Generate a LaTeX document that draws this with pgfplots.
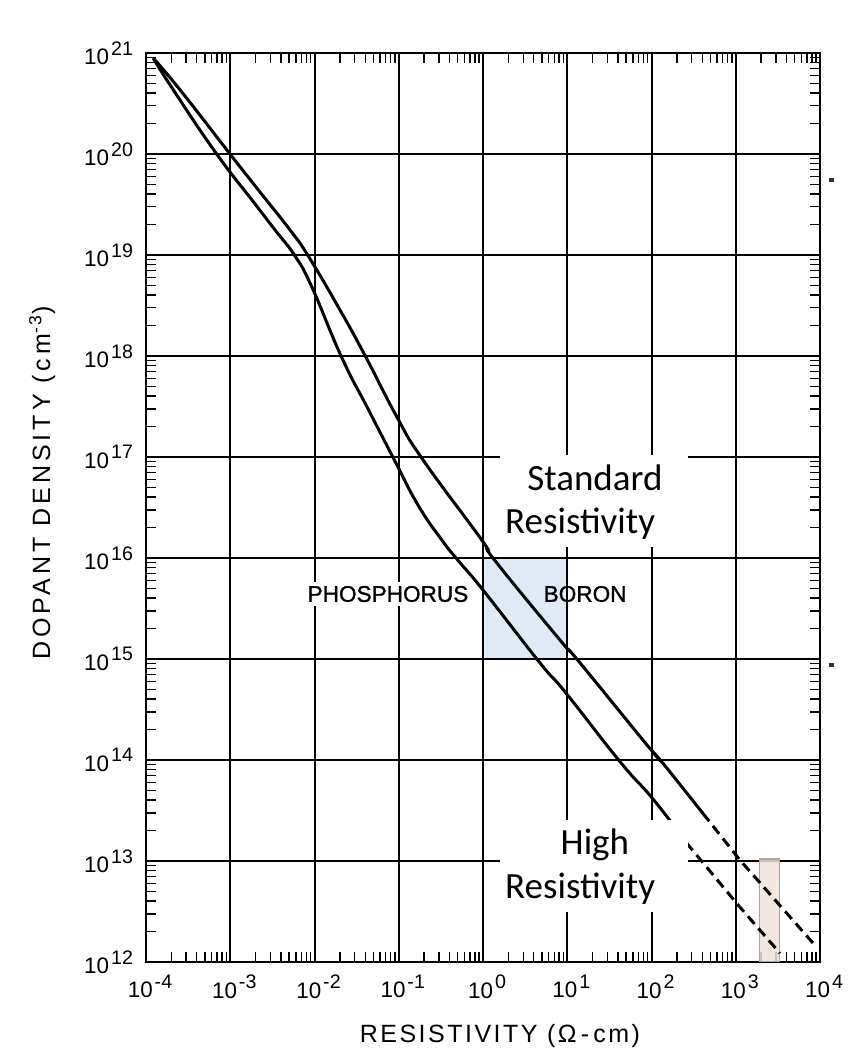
\documentclass[border=0pt]{standalone}
\usepackage{pgfplots}
\pgfplotsset{compat=1.18}
\usepackage{fontspec}
\setmainfont{Liberation Sans}
\newfontfamily\labfont[LetterSpace=10]{Liberation Sans}
\newfontfamily\ylabfont[LetterSpace=16]{Liberation Sans}
\newfontfamily\phfont[FakeBold=1.2]{Liberation Sans}
\newfontfamily\calfont{Carlito}
\definecolor{stdblue}{RGB}{224,234,247}
\definecolor{stdblueedge}{RGB}{150,182,220}
\definecolor{hrpink}{RGB}{239,226,218}
\definecolor{hredge}{RGB}{175,165,160}
\newcommand{\tl}[1]{10\kern1pt\raisebox{0.42em}{\fontsize{9.8}{10}\selectfont #1}}
\begin{document}
\begin{tikzpicture}
\begin{axis}[
  set layers,
  at={(0,0)}, anchor=south west,
  scale only axis, width=337pt, height=454.5pt,
  xmode=log, ymode=log,
  xmin=1e-4, xmax=1e4, ymin=1e12, ymax=1e21,
  xtick={1e-4,1e-3,1e-2,1e-1,1,10,100,1000,10000},
  xticklabels={\tl{-4},\tl{-3},\tl{-2},\tl{-1},\tl{0},\tl{1},\tl{2},\tl{3},\tl{4}},
  ytick={1e12,1e13,1e14,1e15,1e16,1e17,1e18,1e19,1e20,1e21},
  yticklabels={\tl{12},\tl{13},\tl{14},\tl{15},\tl{16},\tl{17},\tl{18},\tl{19},\tl{20},\tl{21}},
  minor xtick={2e-4,3e-4,4e-4,5e-4,6e-4,7e-4,8e-4,9e-4,
    2e-3,3e-3,4e-3,5e-3,6e-3,7e-3,8e-3,9e-3,
    2e-2,3e-2,4e-2,5e-2,6e-2,7e-2,8e-2,9e-2,
    0.2,0.3,0.4,0.5,0.6,0.7,0.8,0.9,
    2,3,4,5,6,7,8,9,
    20,30,40,50,60,70,80,90,
    200,300,400,500,600,700,800,900,
    2000,3000,4000,5000,6000,7000,8000,9000},
  minor ytick={2e12,3e12,4e12,5e12,6e12,7e12,8e12,9e12,
    2e13,3e13,4e13,5e13,6e13,7e13,8e13,9e13,
    2e14,3e14,4e14,5e14,6e14,7e14,8e14,9e14,
    2e15,3e15,4e15,5e15,6e15,7e15,8e15,9e15,
    2e16,3e16,4e16,5e16,6e16,7e16,8e16,9e16,
    2e17,3e17,4e17,5e17,6e17,7e17,8e17,9e17,
    2e18,3e18,4e18,5e18,6e18,7e18,8e18,9e18,
    2e19,3e19,4e19,5e19,6e19,7e19,8e19,9e19,
    2e20,3e20,4e20,5e20,6e20,7e20,8e20,9e20},
  grid=major,
  major grid style={black, line width=1pt},
  minor grid style={draw=none},
  axis line style={black, line width=1.2pt},
  major tick length=0pt,
  minor tick length=5pt,
  every minor tick/.style={black, line width=0.7pt},
  tick align=inside,
  tick label style={font=\fontsize{11.2}{12}\selectfont},
  xticklabel style={yshift=-3pt, xshift=2pt},
  yticklabel style={xshift=-3pt},
  xlabel={\labfont RESISTIVITY (Ω\,-\,cm)},
  ylabel={\ylabfont DOPANT DENSITY (cm\textsuperscript{-3})},
  xlabel style={font=\fontsize{12.5}{14}\selectfont, at={(axis description cs:0.525,-0.0814)}, anchor=center},
  ylabel style={font=\fontsize{12.5}{14}\selectfont, at={(axis description cs:-0.154,0.527)}, anchor=center},
]
% highlighted standard resistivity window (below the grid)
\addplot[on layer=axis background, fill=stdblue, draw=stdblueedge, line width=0.8pt]
  coordinates {(1,1e15) (10,1e15) (10,1e16) (1,1e16) (1,1e15)};
% high resistivity window
\addplot[fill=hrpink, draw=hredge, line width=0.7pt, fill opacity=0.85]
  coordinates {(1905,1e12) (3290,1e12) (3290,1.05e13) (1905,1.05e13) (1905,1e12)};
% Phosphorus (solid)
\addplot[black, line width=1.5pt, smooth, tension=0.8] coordinates {
  (1.22e-4,8.87e20) (2.11e-4,4.31e20) (6.78e-4,1.02e20) (1.97e-3,3.20e19)
  (3.40e-3,1.77e19) (5.87e-3,9.77e18) (9.27e-3,4.85e18) (2.10e-2,9.71e17)
  (4.27e-2,3.05e17) (8.79e-2,9.48e16) (0.169,3.35e16) (0.324,1.51e16)
  (0.509,9.40e15) (1.0,4.82e15) (4.62,9.40e14) (9.66,4.60e14) (42.3,9.62e13)
  (98.6,4.34e13) (200,2.04e13)};
% Phosphorus (dashed)
\addplot[black, line width=1.5pt, dash pattern=on 5pt off 3pt] coordinates {
  (200,2.04e13) (262,1.50e13) (1026,3.81e12) (3350,1.22e12)};
% Boron (solid)
\addplot[black, line width=1.5pt, smooth, tension=0.8] coordinates {
  (1.22e-4,8.87e20) (2.54e-4,4.31e20) (9.75e-4,1.02e20) (2.25e-3,4.21e19)
  (5.12e-3,1.77e19) (8.43e-3,9.77e18) (2.01e-2,2.85e18) (4.08e-2,9.71e17)
  (9.46e-2,2.51e17) (0.192,9.48e16) (0.966,1.51e16) (1.39,9.40e15)
  (8.20,1.54e15) (13.8,9.40e14) (98.6,1.26e14) (132,9.62e13) (408,2.96e13)};
% Boron (dashed)
\addplot[black, line width=1.5pt, dash pattern=on 5pt off 3pt] coordinates {
  (408,2.96e13) (1122,1.02e13) (8260,1.54e12)};
% labels
\node[fill=white, inner sep=2pt, font=\phfont\fontsize{11.3}{13}\selectfont] at (axis cs:0.0745,4.4e15) {PHOSPHORUS};
\node[inner sep=1pt, font=\phfont\fontsize{11.3}{13}\selectfont] at (axis cs:16.3,4.4e15) {BORON};
\fill[white] (axis cs:1.59,1.29e16) rectangle (axis cs:271,1.05e17);
\node[font=\calfont\fontsize{18.5}{22}\selectfont] at (axis cs:21.3,6.2e16) {Standard};
\node[font=\calfont\fontsize{18.5}{22}\selectfont] at (axis cs:14.2,2.2e16) {Resistivity};
\fill[white] (axis cs:1.59,3.13e12) rectangle (axis cs:271,2.55e13);
\node[font=\calfont\fontsize{18.5}{22}\selectfont] at (axis cs:21.3,1.44e13) {High};
\node[font=\calfont\fontsize{18.5}{22}\selectfont] at (axis cs:14.2,5.28e12) {Resistivity};
\end{axis}
% slide bullet remnants at the right margin
\fill[black!80] (341.3pt,390pt) rectangle ++(2.5pt,2pt);
\fill[black!80] (341.3pt,147.5pt) rectangle ++(2.5pt,2pt);
\pgfresetboundingbox
\path (-73pt,-45pt) rectangle (356pt,481pt);
\end{tikzpicture}
\end{document}
